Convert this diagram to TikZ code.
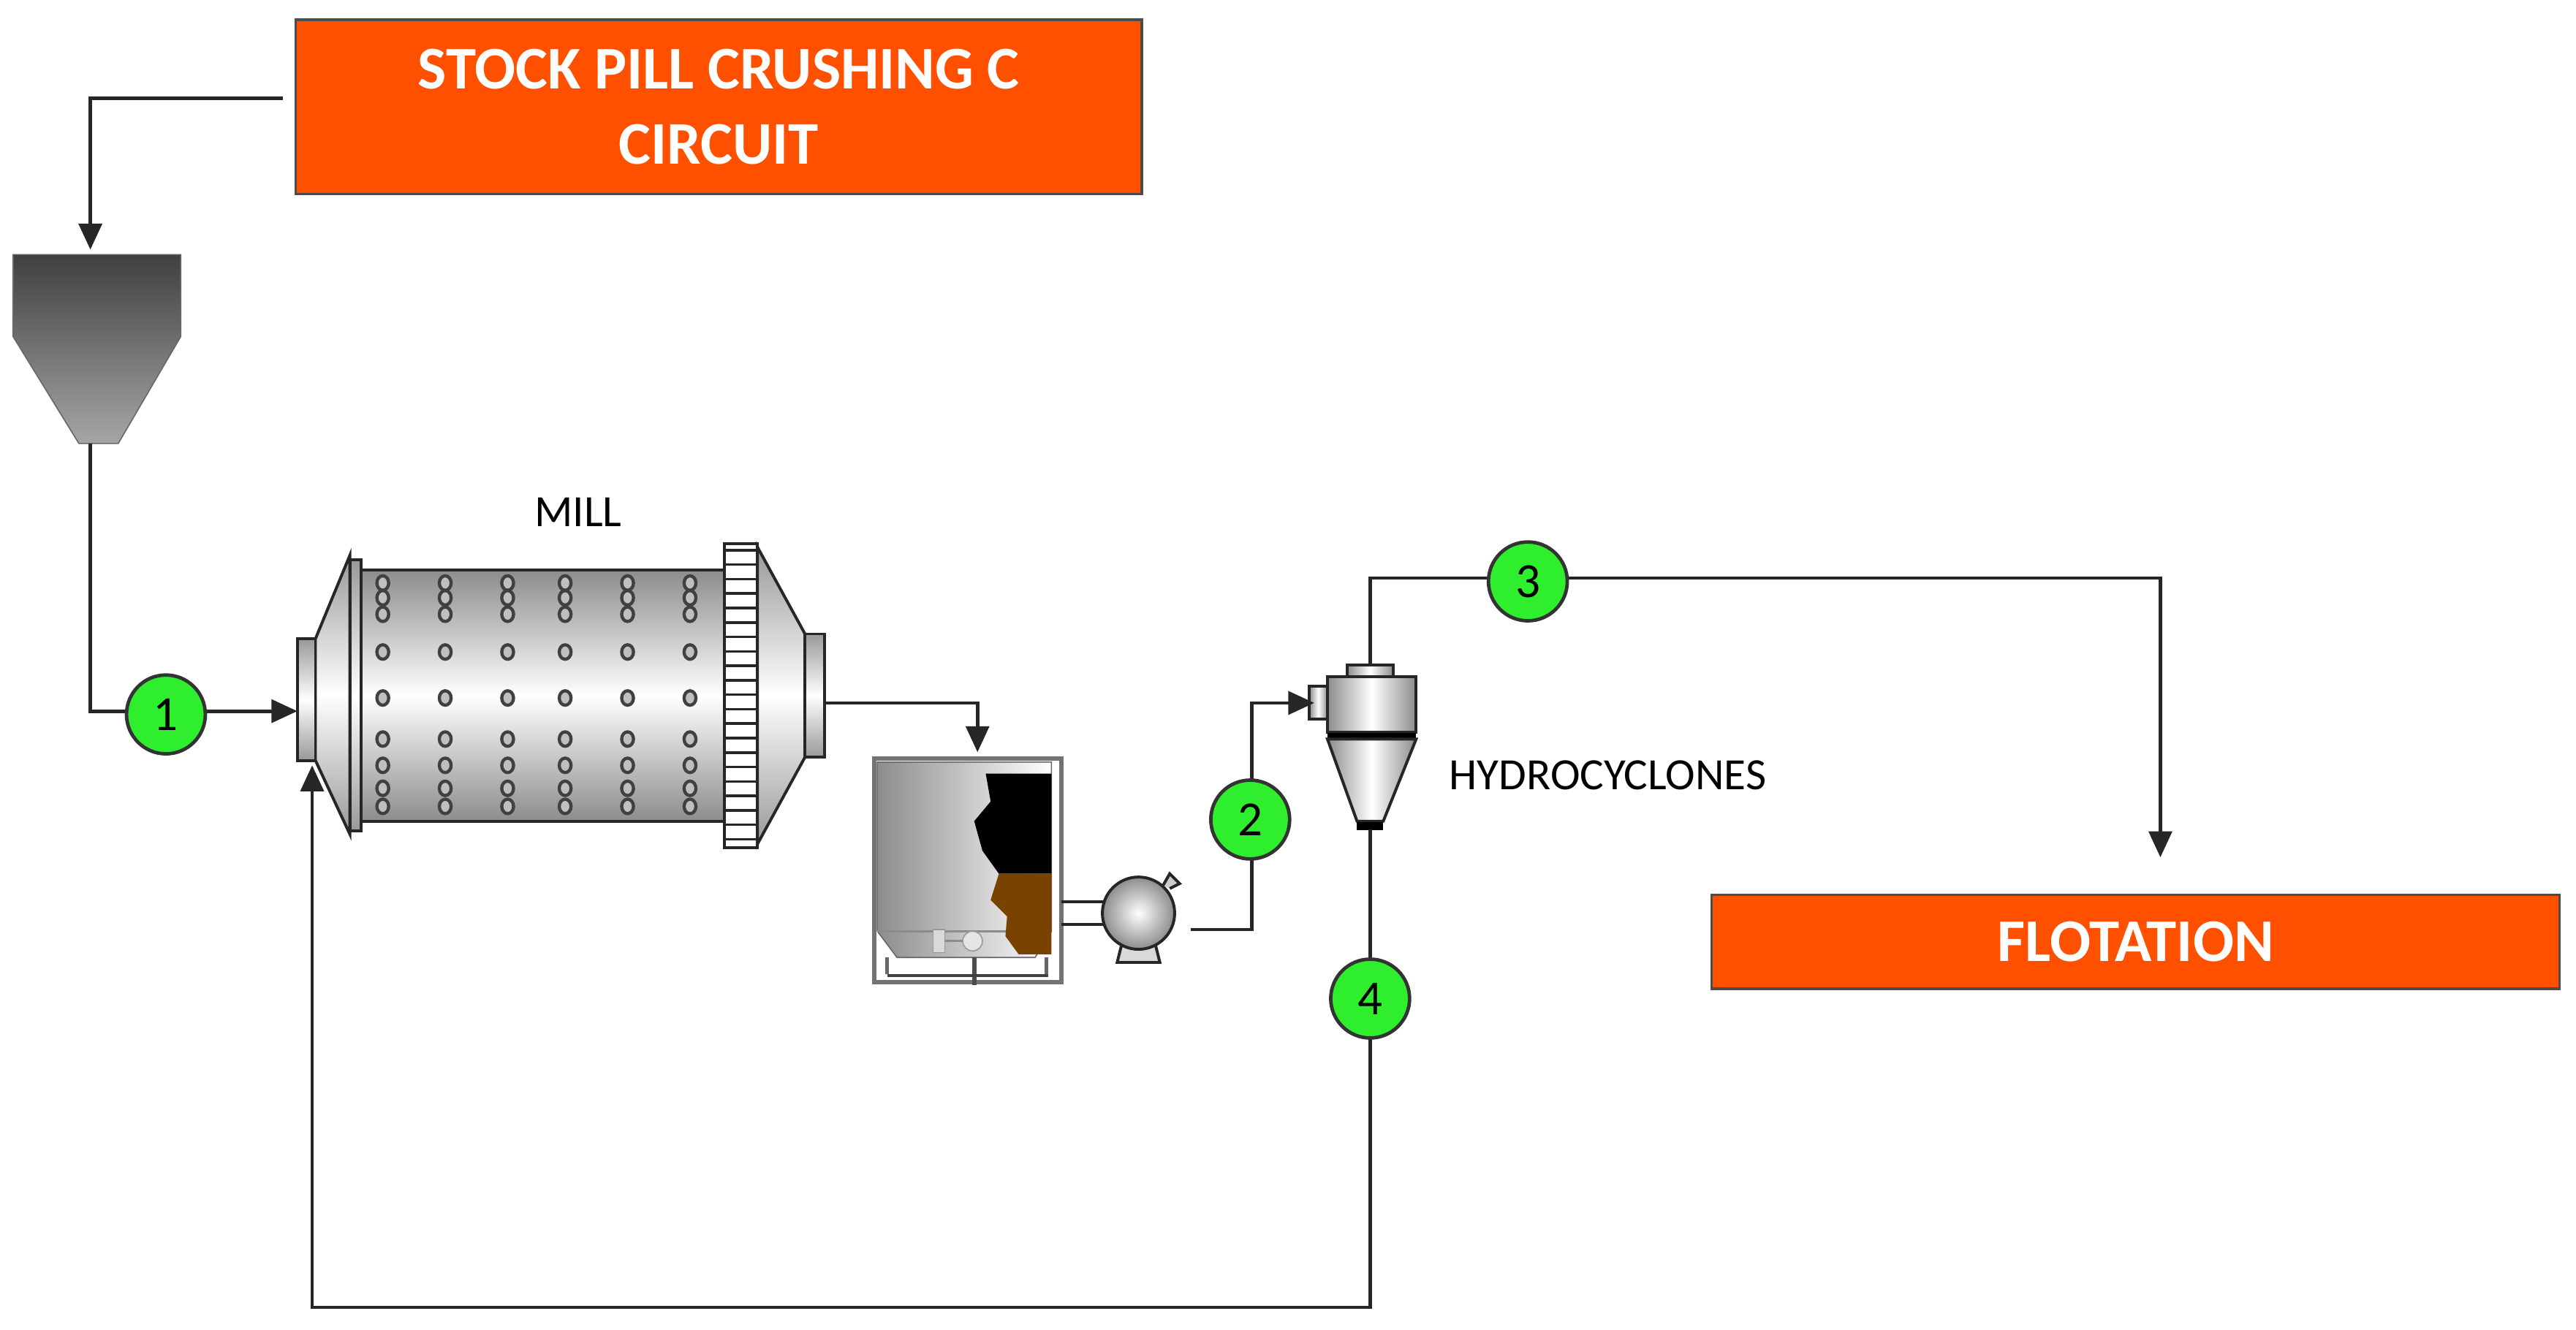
\documentclass[tikz,border=0pt]{standalone}
\usepackage{fontspec}
\setmainfont{Carlito}
\usetikzlibrary{arrows.meta,shapes.geometric}
\definecolor{boxor}{HTML}{FF5000}
\definecolor{grn}{HTML}{2EEE2E}
\definecolor{brn}{HTML}{7A4200}
\begin{document}
\begin{tikzpicture}[x=0.02cm,y=-0.02cm,
  flow/.style={line width=1.2pt,draw=black!85},
  arr/.style={flow,-{Triangle[length=9pt,width=8pt]}},
  tag/.style={circle,draw=black!80,line width=1.2pt,fill=grn,minimum size=48*0.02cm,inner sep=0pt,font=\fontsize{17}{17}\selectfont},
  obox/.style={fill=boxor,draw=black!70,line width=0.8pt,text=white,font=\bfseries\fontsize{21}{26}\selectfont,align=center,inner sep=0pt},
  lbl/.style={font=\fontsize{15.5}{15.5}\selectfont},
  metal/.style={draw=black!85,line width=1pt}]
\useasboundingbox (0,0) rectangle (1568,809.4);
% boxes
\node[obox,minimum width=515*0.02cm,minimum height=106*0.02cm] (stock) at (437.5,65) {STOCK PILL CRUSHING C\\CIRCUIT};
\node[obox,minimum width=516*0.02cm,minimum height=57*0.02cm] (flot) at (1300,573.5) {FLOTATION};
% hopper
\shade[top color=black!75,bottom color=black!35,draw=black!60] (8,155) -- (110,155) -- (110,205) -- (72,270) -- (48,270) -- (8,205) -- cycle;
\coordinate (hopin) at (55,152);
\coordinate (hopout) at (55,270);
\coordinate (stockl) at (172,60);
\draw[arr] (stockl) -| (hopin);
% mill
\shade[metal,top color=black!40,bottom color=black!40,middle color=white] (192,389) -- (213,338) -- (213,508) -- (192,463) -- cycle;
\shade[metal,top color=black!40,bottom color=black!40,middle color=white] (461,333) -- (490,386) -- (490,461) -- (461,514) -- cycle;
\shade[metal,top color=black!45,bottom color=black!45,middle color=white] (220,347) rectangle (441,500);
\shade[metal,top color=black!40,bottom color=black!40,middle color=white] (213,341) rectangle (220,506);
\shade[metal,top color=black!40,bottom color=black!40,middle color=white] (181,389) rectangle (192,463);
\shade[metal,top color=black!40,bottom color=black!40,middle color=white] (490,386) rectangle (502,461);
\draw[metal,fill=white] (441,331) rectangle (461,516);
\foreach \k in {0,...,20}{\draw[black!85,line width=0.9pt] (441,{331+\k*8.8+4}) -- (461,{331+\k*8.8+4});}
\foreach \xx in {233,271,309,344,382,420}{
  \foreach \yy in {355,364,374,397,425,450,466,480,491}{
    \draw[black!75,fill=black!25,line width=1.1pt] (\xx,\yy) ellipse (3.6 and 4.4);}}
\node[lbl] (milllbl) at (352,312) {MILL};
\coordinate (millin) at (181,433);
\coordinate (millret) at (190,466);
\coordinate (millout) at (502,428);
% sump
\draw[black!55,line width=1.5pt,fill=white] (532,462) rectangle (646,598);
\shade[left color=black!45,right color=white,draw=black!60] (534,464) -- (640,464) -- (640,567) -- (630,583) -- (546,583) -- (534,567) -- cycle;
\draw[black!45,line width=0.8pt] (534,567) -- (640,567);
\fill[black] (600,471) -- (640,471) -- (640,532) -- (608,532) -- (598,518) -- (593,500) -- (603,488) -- cycle;
\fill[brn] (608,532) -- (640,532) -- (640,581) -- (620,581) -- (612,570) -- (613,558) -- (603,548) -- cycle;
\draw[black!60,line width=1.2pt] (540,583) -- (540,593) (637,583) -- (637,593);
\draw[black!70,line width=1.5pt] (593,583) -- (593,600);
\draw[black!40,fill=black!15] (568,566) rectangle (575,580);
\draw[black!40,fill=black!10] (592,573) circle (6);
\draw[black!45,line width=0.8pt] (575,573) -- (586,573);
\draw[black!75,line width=1.2pt] (540,594) -- (638,594);
\coordinate (sumpin) at (595,458);
% pump
\draw[black!85,line width=1pt] (646,549) -- (672,549);
\draw[black!85,line width=1pt] (646,563) -- (672,563);
\draw[metal,fill=black!15] (683,574) -- (680,586) -- (706,586) -- (703,574);
\shade[metal,inner color=white,outer color=black!45] (693,556) circle (22);
\draw[metal,fill=black!20] (708,539) -- (712,532) -- (718,538) -- (712,541);
\coordinate (pumpout) at (725,566);
% cyclone
\coordinate (cycin) at (800,428);
\shade[metal,left color=black!45,right color=black!45,middle color=white] (797,418) rectangle (808,438);
\shade[metal,left color=black!45,right color=black!45,middle color=white] (820,405) rectangle (848,412);
\shade[metal,left color=black!45,right color=black!45,middle color=white] (808,412) rectangle (862,446);
\draw[black,line width=2.2pt] (808,448) -- (862,448);
\shade[metal,left color=black!45,right color=black!45,middle color=white] (808,450) -- (862,450) -- (842,500) -- (826,500) -- cycle;
\draw[black,line width=3pt] (826,503) -- (842,503);
\coordinate (cyctop) at (834,405);
\coordinate (cycbot) at (834,505);
\node[lbl,anchor=west] (hclbl) at (876,472) {HYDROCYCLONES};
% flows
\draw[arr] (hopout) |- (millin);
\draw[arr] (millout) -| (sumpin);
\draw[arr] (pumpout) -- (762,566) |- (cycin);
\coordinate (flotin) at (1315,522);
\draw[arr] (cyctop) |- (1315,352) -- (flotin);
\draw[arr] (cycbot) |- (190,796) -- (millret);
% tags
\node[tag] (t1) at (101,435) {1};
\node[tag] (t2) at (761,499) {2};
\node[tag] (t3) at (930,354) {3};
\node[tag] (t4) at (834,608) {4};
\end{tikzpicture}
\end{document}
